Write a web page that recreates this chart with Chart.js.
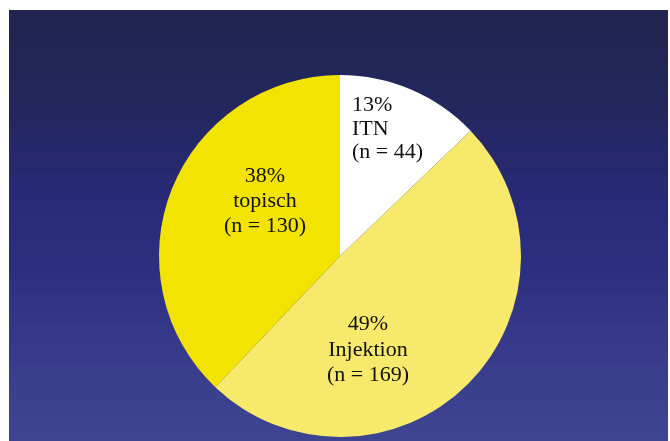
<!DOCTYPE html>
<html>
<head>
<meta charset="utf-8">
<script src="https://cdn.jsdelivr.net/npm/chart.js@4/dist/chart.umd.min.js"></script>
<style>
  html, body { margin: 0; padding: 0; background: #ffffff; }
  #panel {
    position: absolute; left: 9px; top: 10px; width: 659px; height: 431px;
    background: linear-gradient(to bottom, #21244f 0%, #23275c 22%, #292a79 45%, #2c2f7f 60%, #373a8a 78%, #3d4592 100%);
  }
  #panel canvas { display: block; }
</style>
</head>
<body>
<div id="panel"><canvas id="pie" width="659" height="431"></canvas></div>
<script>
// Behandlungsarten und Fallzahlen
const categories = ['ITN', 'Injektion', 'topisch'];
const counts = [44, 169, 130];
const sliceColors = ['#ffffff', '#f6e96b', '#f2e400'];

// Textanker (mittlere Zeile) relativ zum Kreismittelpunkt (px), Zeilenabstand und Ausrichtung
const labelAnchors = [
  { dx: 12, dy: -127, gap: 23.5, align: 'left' },
  { dx: 28, dy: 94, gap: 25.5, align: 'center' },
  { dx: -75, dy: -55, gap: 25, align: 'center' }
];

const total = counts.reduce((a, b) => a + b, 0);

const sliceLabels = {
  id: 'sliceLabels',
  afterDatasetsDraw(chart) {
    const ctx = chart.ctx;
    const meta = chart.getDatasetMeta(0);
    ctx.save();
    ctx.font = '22px "Liberation Serif", "Times New Roman", serif';
    ctx.fillStyle = '#111111';
    ctx.textBaseline = 'middle';
    meta.data.forEach((arc, i) => {
      const v = counts[i];
      const pct = Math.round(v / total * 100) + '%';
      const lines = [pct, categories[i], '(n = ' + v + ')'];
      const a = labelAnchors[i];
      ctx.textAlign = a.align;
      const x = arc.x + a.dx;
      lines.forEach((t, k) => {
        ctx.fillText(t, x, arc.y + a.dy + (k - 1) * a.gap);
      });
    });
    ctx.restore();
  }
};

new Chart(document.getElementById('pie'), {
  type: 'pie',
  data: {
    labels: categories,
    datasets: [{
      data: counts,
      backgroundColor: sliceColors,
      borderWidth: 0
    }]
  },
  options: {
    responsive: false,
    animation: false,
    layout: { padding: { top: 65, bottom: 4, left: 3, right: 0 } },
    plugins: {
      legend: { display: false },
      tooltip: { enabled: false }
    }
  },
  plugins: [sliceLabels]
});
</script>
</body>
</html>
